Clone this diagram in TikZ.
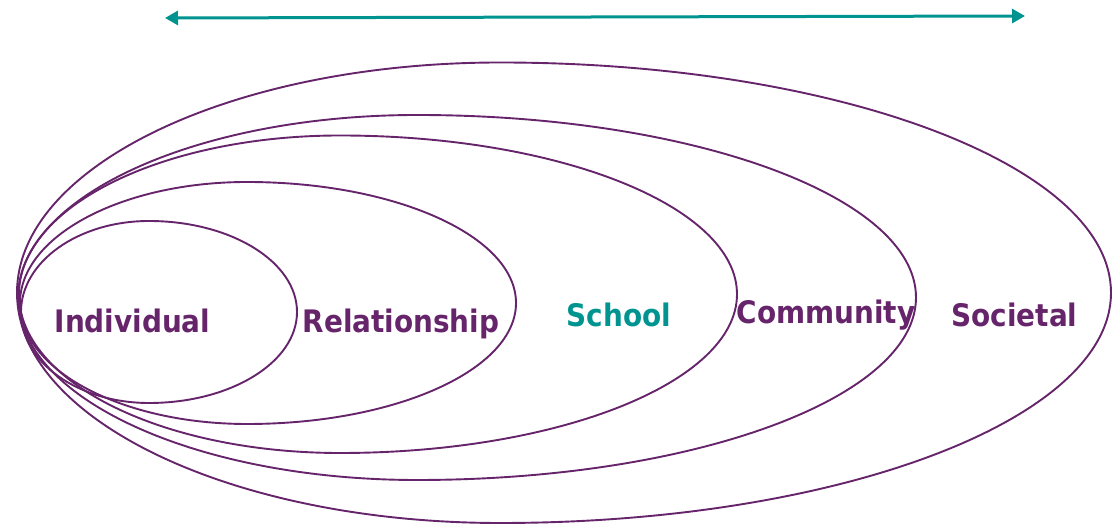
\documentclass[tikz,border=0pt]{standalone}
\usepackage{fontspec}
\setmainfont{DejaVu Sans Condensed}
\usetikzlibrary{arrows.meta}
\definecolor{plum}{RGB}{102,36,107}
\definecolor{tealc}{RGB}{0,148,144}
\tikzset{
  ring/.style={draw=plum, line width=1.9pt},
  lbl/.style={font=\fontsize{31}{31}\selectfont\bfseries, anchor=base, inner sep=0pt},
  span/.style={draw=tealc, line width=3pt, {Triangle[length=13pt,width=14pt]}-{Triangle[length=13pt,width=14pt]}}
}
% egg: top point x, top y (pixel), bottom y (pixel), rxL, rxR
\newcommand{\eggshape}[5]{%
  \pgfmathsetmacro{\ry}{(#3-#2)/2}%
  \draw[ring] (#1,524-#2) arc[start angle=90,end angle=270,x radius=#4,y radius=\ry]
     arc[start angle=-90,end angle=90,x radius=#5,y radius=\ry] -- cycle;}
\begin{document}
\begin{tikzpicture}[x=1pt,y=1pt]
\useasboundingbox (0,0) rectangle (1112,524);
% rings
\eggshape{149}{221}{403}{128}{148}
\eggshape{247}{182}{424}{227}{269}
\eggshape{340}{135.5}{453}{321}{397}
\eggshape{417}{115}{480}{399}{499}
\eggshape{500}{62.5}{523}{483}{611}
% arrow
\coordinate (aL) at (165,524-18);
\coordinate (aR) at (1025,524-16);
\draw[span] (aL) -- (aR);
% labels
\node[lbl, text=plum] (ind) at (132.5,524-333) {Individual};
\node[lbl, text=plum] (rel) at (401,524-333) {Relationship};
\node[lbl, text=tealc] (sch) at (619,524-327) {School};
\node[lbl, text=plum] (com) at (826,524-323.5) {Community};
\node[lbl, text=plum] (soc) at (1014.5,524-326.5) {Societal};
\end{tikzpicture}
\end{document}
